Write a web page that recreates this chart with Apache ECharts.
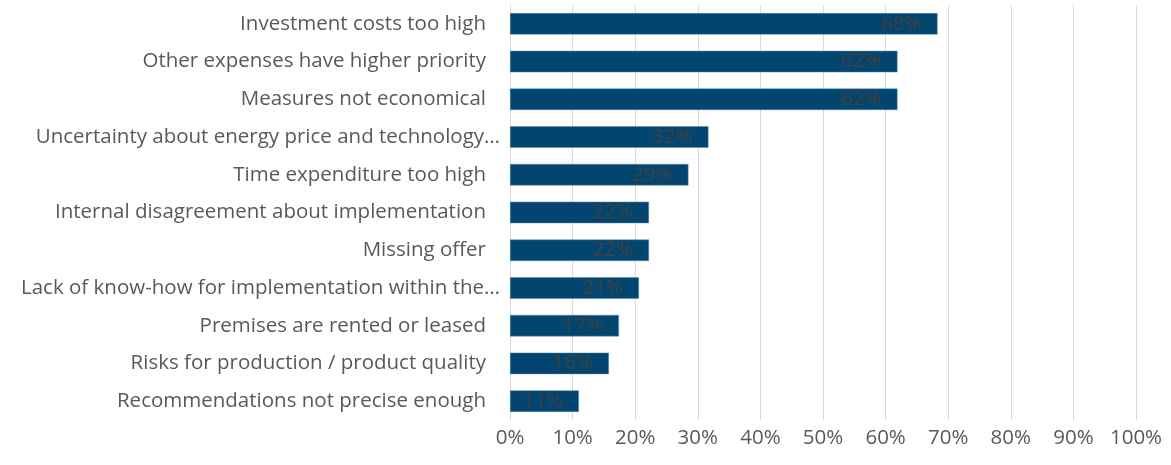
<!DOCTYPE html>
<html>
<head>
<meta charset="utf-8">
<script src="https://cdn.jsdelivr.net/npm/echarts@6/dist/echarts.min.js"></script>
<style>html,body{margin:0;padding:0;background:#fff;}#c{width:1171px;height:465px;}</style>
</head>
<body>
<div id="c"></div>
<script>
const categories = [
  "Investment costs too high",
  "Other expenses have higher priority",
  "Measures not economical",
  "Uncertainty about energy price and technology…",
  "Time expenditure too high",
  "Internal disagreement about implementation",
  "Missing offer",
  "Lack of know-how for implementation within the…",
  "Premises are rented or leased",
  "Risks for production / product quality",
  "Recommendations not precise enough"
];
const values = [68.3, 61.9, 61.9, 31.7, 28.5, 22.2, 22.2, 20.6, 17.4, 15.8, 11.0];
const xTicks = [0, 10, 20, 30, 40, 50, 60, 70, 80, 90, 100];

const chart = echarts.init(document.getElementById('c'), null, {renderer: 'canvas'});
const font = '"Open Sans", "Noto Sans", sans-serif';
chart.setOption({
  animation: false,
  grid: {left: 510, right: 35, top: 5, bottom: 45, containLabel: false},
  xAxis: {
    type: 'value', min: 0, max: 100, interval: 10,
    axisLine: {show: false}, axisTick: {show: false},
    splitLine: {show: true, lineStyle: {color: '#d9d9d9', width: 1}},
    axisLabel: {formatter: v => v + '%', color: '#595959', fontSize: 20.5, fontFamily: font, margin: 8}
  },
  yAxis: {
    type: 'category', inverse: true, data: categories,
    axisLine: {show: true, lineStyle: {color: '#d9d9d9', width: 1}},
    axisTick: {show: false},
    axisLabel: {
      color: '#595959', fontSize: 20.5, fontFamily: font, margin: 24,
      formatter: v => v.endsWith('…') ? '{e|' + v + '}' : v,
      rich: {e: {color: '#595959', fontSize: 20.5, fontFamily: font, padding: [0, -14, 0, 0]}}
    }
  },
  series: [{
    type: 'bar', data: values, barCategoryGap: '43%',
    itemStyle: {color: '#02466F', borderColor: '#5b8fb3', borderWidth: 0.5},
    label: {show: true, position: 'insideRight', distance: 16,
      formatter: p => Math.round(p.value) + '%', color: '#404040', fontSize: 20.5, fontFamily: font}
  }]
});
</script>
</body>
</html>
